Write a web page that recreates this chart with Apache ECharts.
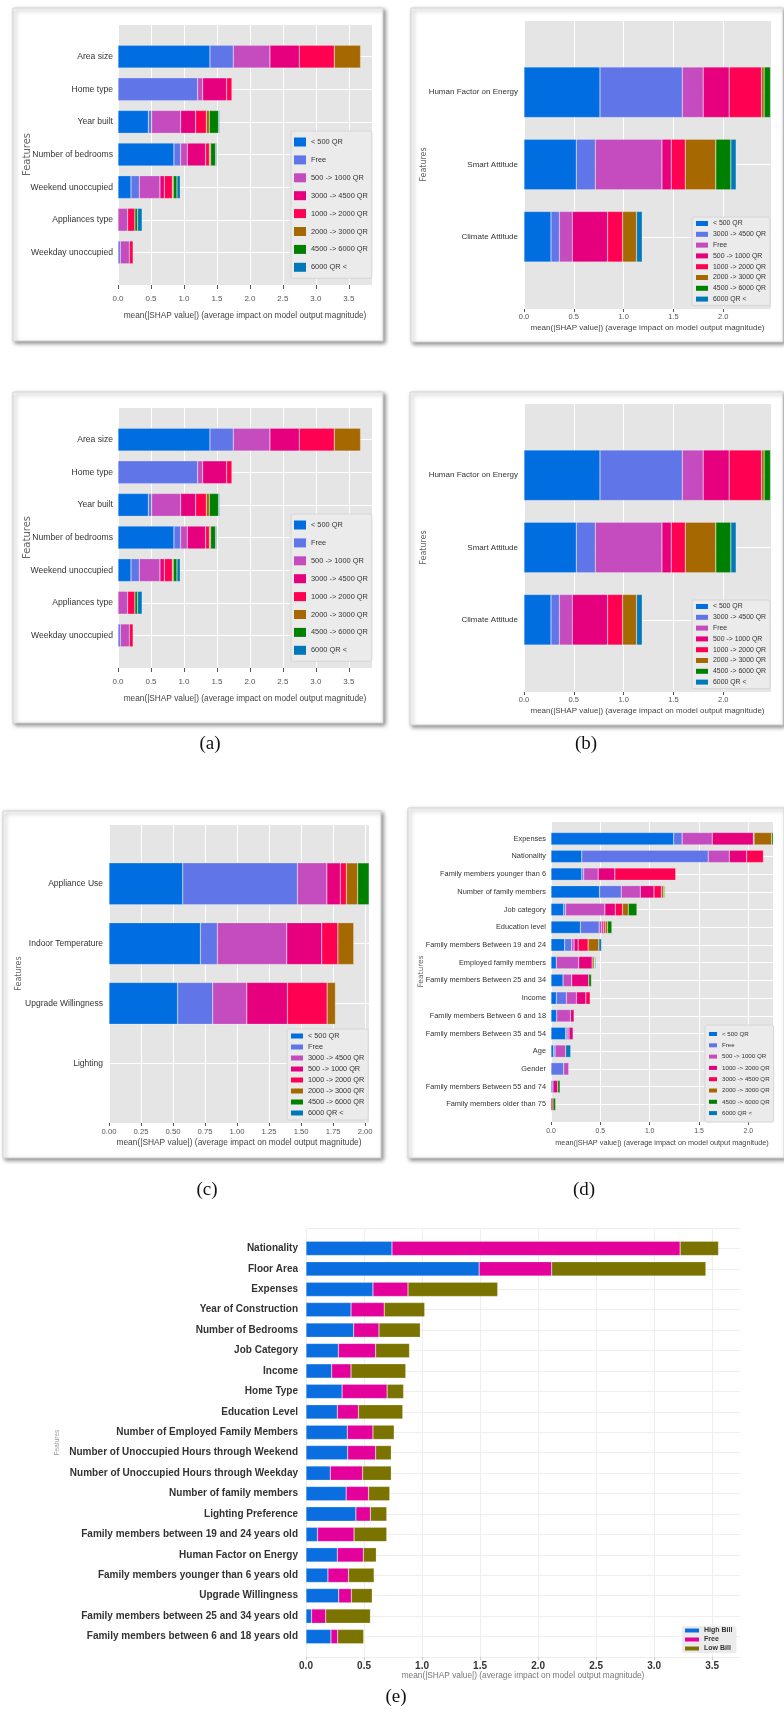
<!DOCTYPE html>
<html><head><meta charset="utf-8">
<script src="https://cdn.jsdelivr.net/npm/echarts@6/dist/echarts.min.js"></script>
<style>html,body{margin:0;padding:0;background:#fff}#c{width:784px;height:1710px}</style>
</head><body><div id="c"></div>
<script>
// ---------------- DATA ----------------
// Panel (a)
const aFeatures = ['Area size','Home type','Year built','Number of bedrooms','Weekend unoccupied','Appliances type','Weekday unoccupied'];
const aClasses = ['< 500 QR','Free','500 -> 1000 QR','3000 -> 4500 QR','1000 -> 2000 QR','2000 -> 3000 QR','4500 -> 6000 QR','6000 QR <'];
const aLess500    = [1.394, 0,     0.46,  0.848, 0.197, 0,     0];
const aFree       = [0.353, 1.207, 0.05,  0.101, 0.126, 0,     0.035];
const a500to1000  = [0.556, 0.076, 0.439, 0.101, 0.313, 0.146, 0.137];
const a3000to4500 = [0.444, 0.363, 0.228, 0.278, 0.066, 0,     0];
const a1000to2000 = [0.531, 0.081, 0.161, 0.056, 0.121, 0.11,  0.057];
const a2000to3000 = [0.399, 0,     0.046, 0.02,  0.015, 0,     0];
const a4500to6000 = [0,     0,     0.141, 0.076, 0.056, 0.04,  0];
const a6000plus   = [0,     0,     0.015, 0.015, 0.05,  0.07,  0];
const aTicks = [0, 0.5, 1, 1.5, 2, 2.5, 3, 3.5];

// Panel (b)
const bFeatures = ['Human Factor on Energy','Smart Attitude','Climate Attitude'];
const bClasses = ['< 500 QR','3000 -> 4500 QR','Free','500 -> 1000 QR','1000 -> 2000 QR','2000 -> 3000 QR','4500 -> 6000 QR','6000 QR <'];
const bLess500    = [0.763, 0.525, 0.271];
const b3000to4500 = [0.826, 0.191, 0.084];
const bFree       = [0.21,  0.669, 0.13];
const b500to1000  = [0.261, 0.093, 0.354];
const b1000to2000 = [0.325, 0.141, 0.151];
const b2000to3000 = [0.026, 0.307, 0.14];
const b4500to6000 = [0.064, 0.151, 0];
const b6000plus   = [0,     0.053, 0.057];
const bTicks = [0, 0.5, 1, 1.5, 2];

// Panel (c)
const cFeatures = ['Appliance Use','Indoor Temperature','Upgrade Willingness','Lighting'];
const cClasses = ['< 500 QR','Free','3000 -> 4500 QR','500 -> 1000 QR','1000 -> 2000 QR','2000 -> 3000 QR','4500 -> 6000 QR','6000 QR <'];
const cLess500    = [0.576, 0.714, 0.536, 0];
const cFree       = [0.895, 0.132, 0.274, 0];
const c3000to4500 = [0.23,  0.542, 0.266, 0];
const c500to1000  = [0.105, 0.273, 0.317, 0];
const c1000to2000 = [0.047, 0.126, 0.31,  0];
const c2000to3000 = [0.088, 0.124, 0.065, 0];
const c4500to6000 = [0.09,  0,     0,     0];
const c6000plus   = [0,     0,     0,     0];
const cTicks = [0, 0.25, 0.5, 0.75, 1, 1.25, 1.5, 1.75, 2];

// Panel (d)
const dFeatures = ['Expenses','Nationality','Family members younger than 6','Number of family members','Job category','Education level','Family members Between 19 and 24','Employed family members','Family members Between 25 and 34','Income','Family members Between 6 and 18','Family members Between 35 and 54','Age','Gender','Family members Between 55 and 74','Family members older than 75'];
const dClasses = ['< 500 QR','Free','500 -> 1000 QR','1000 -> 2000 QR','3000 -> 4500 QR','2000 -> 3000 QR','4500 -> 6000 QR','6000 QR <'];
const dLess500    = [1.244, 0.312, 0.312, 0.492, 0.129, 0.298, 0.139, 0.054, 0.122, 0.054, 0.058, 0.149, 0.027, 0,     0,     0];
const dFree       = [0.085, 1.281, 0.02,  0.22,  0.02,  0.19,  0.071, 0,     0,     0.102, 0,     0.014, 0.014, 0.129, 0.02,  0];
const d500to1000  = [0.305, 0.214, 0.146, 0.193, 0.397, 0.027, 0.024, 0.227, 0.088, 0.102, 0.139, 0.02,  0.108, 0.051, 0,     0];
const d1000to2000 = [0.417, 0.176, 0.169, 0.139, 0.105, 0.017, 0.041, 0.136, 0.173, 0.095, 0.037, 0.041, 0,     0,     0.048, 0];
const d3000to4500 = [0.007, 0.17,  0.617, 0.075, 0.074, 0.017, 0.101, 0,     0,     0.044, 0,     0,     0,     0,     0,     0.02];
const d2000to3000 = [0.179, 0,     0,     0.023, 0.058, 0.024, 0.109, 0.02,  0,     0,     0,     0,     0,     0,     0,     0];
const d4500to6000 = [0.017, 0,     0,     0.011, 0.088, 0.044, 0,     0.007, 0.027, 0,     0,     0,     0,     0,     0.024, 0.027];
const d6000plus   = [0,     0,     0,     0.006, 0,     0,     0.027, 0.01,  0,     0,     0,     0,     0.051, 0,     0,     0];
const dTicks = [0, 0.5, 1, 1.5, 2];

// Panel (e)
const eFeatures = ['Nationality','Floor Area','Expenses','Year of Construction','Number of Bedrooms','Job Category','Income','Home Type','Education Level','Number of Employed Family Members','Number of Unoccupied Hours through Weekend','Number of Unoccupied Hours through Weekday','Number of family members','Lighting Preference','Family members between 19 and 24 years old','Human Factor on Energy','Family members younger than 6 years old','Upgrade Willingness','Family members between 25 and 34 years old','Family members between 6 and 18 years old'];
const eClasses = ['High Bill','Free','Low Bill'];
const eHighBill = [0.741, 1.492, 0.577, 0.388, 0.411, 0.279, 0.221, 0.311, 0.27,  0.356, 0.359, 0.209, 0.346, 0.43,  0.099, 0.27,  0.189, 0.282, 0.048, 0.215];
const eFree     = [2.483, 0.625, 0.302, 0.286, 0.218, 0.321, 0.167, 0.388, 0.182, 0.221, 0.241, 0.279, 0.193, 0.125, 0.315, 0.224, 0.177, 0.109, 0.122, 0.058];
const eLowBill  = [0.331, 1.329, 0.773, 0.349, 0.356, 0.292, 0.472, 0.142, 0.382, 0.183, 0.135, 0.247, 0.183, 0.141, 0.282, 0.112, 0.221, 0.18,  0.385, 0.224];
const eTicks = [0, 0.5, 1, 1.5, 2, 2.5, 3, 3.5];

const xAxisTitle = 'mean(|SHAP value|) (average impact on model output magnitude)';

// ---------------- STYLE ----------------
const SANS = "'Liberation Sans', Arial, sans-serif";
const DEJAVU = "'DejaVu Sans', sans-serif";
const SERIF = "'Liberation Serif', 'Times New Roman', serif";
const classColors = ['#006ee1','#6075e8','#c44cbe','#e6007e','#ff0052','#a66800','#008000','#0078b9'];
const billColors = ['#0a6ee0','#e3009b','#7a7300'];

const stA = { yF:{fontFamily:SANS,fontSize:8.6,color:'#333'}, yM:5, tF:{fontFamily:SANS,fontSize:8,color:'#555'}, tM:10, tL:4, tC:'#555',
  nF:{fontFamily:SANS,fontSize:8.3,color:'#444'}, nG:27, fF:{fontFamily:DEJAVU,fontSize:10,fill:'#666'}, bg:'#e5e5e5', split:'#ffffff',
  lg:{w:12,h:9,font:{fontFamily:SANS,fontSize:7.4,lineHeight:12,color:'#333'},gap:5.9,pad:[5,4,5,3],bg:'#ebebeb',border:'#d6d6d6'} };
const stB = { yF:{fontFamily:SANS,fontSize:8,color:'#333'}, yM:6, tF:{fontFamily:SANS,fontSize:7.5,color:'#555'}, tM:4, tL:3, tC:'#555',
  nF:{fontFamily:SANS,fontSize:8,color:'#444'}, nG:15, fF:{fontFamily:DEJAVU,fontSize:8,fill:'#666'}, bg:'#e5e5e5', split:'#ffffff',
  lg:{w:12,h:5,font:{fontFamily:SANS,fontSize:6.9,lineHeight:9,color:'#333'},gap:1.8,pad:[2,4,2,4],bg:'#ebebeb',border:'#d6d6d6'} };
const stC = { yF:{fontFamily:SANS,fontSize:8.5,color:'#333'}, yM:6, tF:{fontFamily:SANS,fontSize:7.7,color:'#555'}, tM:5, tL:3, tC:'#555',
  nF:{fontFamily:SANS,fontSize:8.4,color:'#444'}, nG:15.5, fF:{fontFamily:DEJAVU,fontSize:8,fill:'#666'}, bg:'#e5e5e5', split:'#ffffff',
  lg:{w:12,h:5,font:{fontFamily:SANS,fontSize:7.3,lineHeight:10,color:'#333'},gap:1,pad:[2,4,2,4],bg:'#ebebeb',border:'#d6d6d6'} };
const stD = { yF:{fontFamily:SANS,fontSize:7.4,color:'#333'}, yM:5, tF:{fontFamily:SANS,fontSize:6.9,color:'#555'}, tM:6, tL:3, tC:'#555',
  nF:{fontFamily:SANS,fontSize:7.3,color:'#444'}, nG:17, fF:{fontFamily:DEJAVU,fontSize:7.5,fill:'#666'}, bg:'#e5e5e5', split:'#ffffff',
  lg:{w:8,h:4,font:{fontFamily:SANS,fontSize:6.2,lineHeight:10,color:'#333'},gap:1.3,pad:[4,4,4,4],bg:'#ebebeb',border:'#d6d6d6'} };
const stE = { yF:{fontFamily:SANS,fontSize:10,fontWeight:'bold',color:'#333'}, yM:8, tF:{fontFamily:SANS,fontSize:10,fontWeight:'bold',color:'#333'}, tM:4, tL:3, tC:'#cccccc',
  nF:{fontFamily:SANS,fontSize:8.3,color:'#777'}, nG:14, fF:{fontFamily:SANS,fontSize:6.5,fill:'#999'}, bg:'rgba(0,0,0,0)', split:'#eeeeee',
  lg:{w:14,h:4,font:{fontFamily:SANS,fontSize:7,fontWeight:'bold',lineHeight:7,color:'#333'},gap:2,pad:[1,4,1,3],bg:'#ebebeb',border:'rgba(0,0,0,0)'} };

const aVals = [aLess500,aFree,a500to1000,a3000to4500,a1000to2000,a2000to3000,a4500to6000,a6000plus];
const bVals = [bLess500,b3000to4500,bFree,b500to1000,b1000to2000,b2000to3000,b4500to6000,b6000plus];
const cVals = [cLess500,cFree,c3000to4500,c500to1000,c1000to2000,c2000to3000,c4500to6000,c6000plus];
const dVals = [dLess500,dFree,d500to1000,d1000to2000,d3000to4500,d2000to3000,d4500to6000,d6000plus];
const eVals = [eHighBill,eFree,eLowBill];

const panels = [
  {key:'a1', feats:aFeatures, classes:aClasses, vals:aVals, colors:classColors, grid:{left:118,top:24,width:254,height:261}, xMax:3.85, xStep:0.5, ticks:aTicks, digits:1, st:stA, lp:[291,131], fp:[27,154.5]},
  {key:'a2', feats:aFeatures, classes:aClasses, vals:aVals, colors:classColors, grid:{left:118,top:407,width:254,height:261}, xMax:3.85, xStep:0.5, ticks:aTicks, digits:1, st:stA, lp:[291,514], fp:[27,537.5]},
  {key:'b1', feats:bFeatures, classes:bClasses, vals:bVals, colors:classColors, grid:{left:524,top:20,width:247,height:289}, xMax:2.48, xStep:0.5, ticks:bTicks, digits:1, st:stB, lp:[692,217], fp:[424,164.5]},
  {key:'b2', feats:bFeatures, classes:bClasses, vals:bVals, colors:classColors, grid:{left:524,top:403,width:247,height:289}, xMax:2.48, xStep:0.5, ticks:bTicks, digits:1, st:stB, lp:[692,600], fp:[424,547.5]},
  {key:'c',  feats:cFeatures, classes:cClasses, vals:cVals, colors:classColors, grid:{left:109,top:824,width:260,height:299}, xMax:2.03, xStep:0.25, ticks:cTicks, digits:2, st:stC, lp:[287,1029], fp:[19,973.5]},
  {key:'d',  feats:dFeatures, classes:dClasses, vals:dVals, colors:classColors, grid:{left:551,top:821,width:222,height:301}, xMax:2.25, xStep:0.5, ticks:dTicks, digits:1, st:stD, lp:[705,1025], fp:[421,971.5]},
  {key:'e',  feats:eFeatures, classes:eClasses, vals:eVals, colors:billColors, grid:{left:306,top:1228,width:434,height:429}, xMax:3.74, xStep:0.5, ticks:eTicks, digits:1, st:stE, lp:[682,1626], fp:[57,1442.5]}
];

const cards = [[13,8,370,333],[13,392,370,331],[411,8,372,334],[410,392,373,333],[3,811,378,347],[408,808,376,350]];
const captions = [['(a)',210,744],['(b)',586,744],['(c)',207,1190],['(d)',584,1190],['(e)',396,1697]];

// ---------------- BUILD ----------------
const grids = [], xAxes = [], yAxes = [], series = [], legends = [], graphics = [];

cards.forEach(c => graphics.push({type:'rect', z:-10, silent:true, shape:{x:c[0],y:c[1],width:c[2],height:c[3]},
  style:{fill:'#ffffff', stroke:'#d4d4d4', lineWidth:1, shadowBlur:4, shadowOffsetX:2, shadowOffsetY:2, shadowColor:'rgba(0,0,0,0.45)'}}));
captions.forEach(c => graphics.push({type:'text', z:10, x:c[1], y:c[2], style:{text:c[0], fontFamily:SERIF, fontSize:19, fill:'#111',
  align:'center', verticalAlign:'middle', textAlign:'center', textVerticalAlign:'middle'}}));

panels.forEach((p, pi) => {
  const st = p.st;
  grids.push(Object.assign({show:true, backgroundColor:st.bg, borderWidth:0, containLabel:false}, p.grid));
  const isTick = v => p.ticks.some(t => Math.abs(t - v) < 1e-6);
  xAxes.push({
    type:'value', gridIndex:pi, min:0, max:p.xMax, interval:p.xStep,
    name:xAxisTitle, nameLocation:'middle', nameGap:st.nG, nameTextStyle:st.nF,
    axisLine:{show:false},
    axisTick:{show:true, length:st.tL, lineStyle:{color:st.tC, width:1}, customValues:p.ticks},
    axisLabel:Object.assign({margin:st.tM, customValues:p.ticks, formatter: v => isTick(v) ? Number(v).toFixed(p.digits) : ''}, st.tF),
    splitLine:{show:true, lineStyle:{color:st.split, width:1}}
  });
  yAxes.push({
    type:'category', gridIndex:pi, inverse:true, boundaryGap:false,
    data:[''].concat(p.feats, ['']),
    axisLine:{show:false}, axisTick:{show:false},
    axisLabel:Object.assign({interval:0, margin:st.yM}, st.yF),
    splitLine:{show:true, interval:0, lineStyle:{color:st.split, width:1}}
  });
  const names = [];
  p.classes.forEach((cls, ci) => {
    const nm = cls + '@' + p.key;
    names.push(nm);
    series.push({
      type:'bar', name:nm, xAxisIndex:pi, yAxisIndex:pi, stack:'stack_' + p.key, barWidth:'70%',
      itemStyle:{color:p.colors[ci], borderColor:'rgba(255,255,255,0.45)', borderWidth:0.5},
      data:[null].concat(p.vals[ci].map(v => v ? v : null), [null]),
      silent:true
    });
  });
  legends.push({
    orient:'vertical', left:p.lp[0], top:p.lp[1], data:names, icon:'rect', selectedMode:false,
    itemWidth:st.lg.w, itemHeight:st.lg.h, itemGap:st.lg.gap, padding:st.lg.pad,
    backgroundColor:st.lg.bg, borderColor:st.lg.border, borderWidth:1, borderRadius:2,
    itemStyle:{borderWidth:0},
    textStyle:st.lg.font, formatter: n => n.split('@')[0]
  });
  graphics.push({type:'text', z:10, x:p.fp[0], y:p.fp[1], rotation:Math.PI/2,
    style:Object.assign({text:'Features', align:'center', verticalAlign:'middle', textAlign:'center', textVerticalAlign:'middle'}, st.fF)});
});

const chart = echarts.init(document.getElementById('c'), null, {renderer:'canvas', width:784, height:1710});
chart.setOption({
  animation:false,
  backgroundColor:'#ffffff',
  grid:grids, xAxis:xAxes, yAxis:yAxes, series:series, legend:legends, graphic:graphics
});
</script></body></html>
